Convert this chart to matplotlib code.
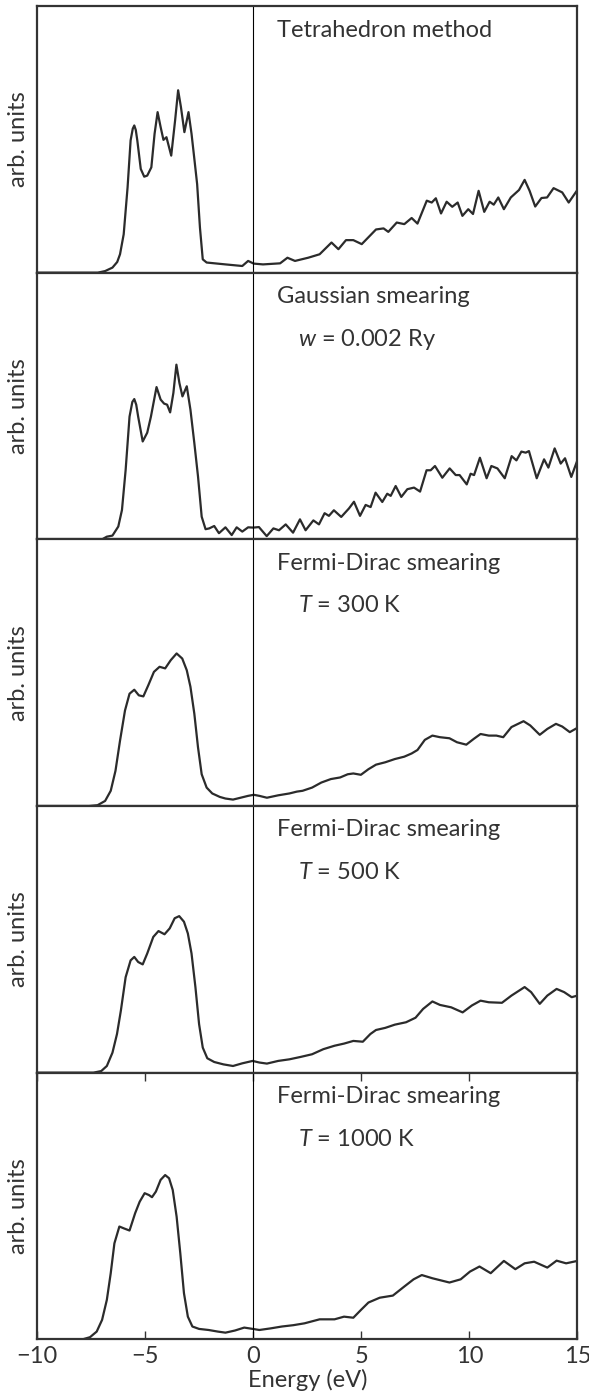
import matplotlib
matplotlib.use('Agg')
import matplotlib.pyplot as plt

# values (energy in eV, DOS as fraction of panel height)
e_tetra = [-10.0, -7.2, -6.86, -6.52, -6.30, -6.17, -6.0, -5.82, -5.68, -5.58, -5.51, -5.44, -5.37,
           -5.21, -5.05, -4.91, -4.72, -4.57, -4.43, -4.29, -4.16, -4.02, -3.80, -3.62, -3.48, -3.35,
           -3.19, -3.0, -2.86, -2.72, -2.60, -2.47, -2.34, -2.16, -1.29, -0.51, -0.24, 0.02, 0.45,
           1.24, 1.58, 1.93, 2.54, 3.07, 3.62, 3.94, 4.29, 4.63, 5.02, 5.68, 6.03, 6.25, 6.64, 6.99,
           7.33, 7.60, 8.03, 8.26, 8.45, 8.69, 8.95, 9.21, 9.46, 9.68, 9.95, 10.17, 10.43, 10.69,
           10.94, 11.13, 11.34, 11.60, 11.92, 12.30, 12.56, 12.79, 13.05, 13.34, 13.60, 13.90, 14.30,
           14.60, 15.0]
dos_tetra = [0.0, 0.0, 0.006, 0.019, 0.040, 0.069, 0.144, 0.32, 0.496, 0.540, 0.552, 0.535, 0.496,
             0.389, 0.360, 0.364, 0.395, 0.521, 0.602, 0.546, 0.498, 0.508, 0.439, 0.571, 0.684,
             0.621, 0.527, 0.602, 0.521, 0.42, 0.332, 0.169, 0.05, 0.038, 0.031, 0.025, 0.044, 0.034,
             0.031, 0.035, 0.056, 0.044, 0.056, 0.069, 0.113, 0.088, 0.122, 0.122, 0.107, 0.162,
             0.166, 0.153, 0.188, 0.182, 0.205, 0.184, 0.27, 0.263, 0.279, 0.222, 0.266, 0.247, 0.263,
             0.213, 0.238, 0.22, 0.307, 0.228, 0.266, 0.255, 0.282, 0.238, 0.282, 0.31, 0.348, 0.307,
             0.248, 0.28, 0.282, 0.317, 0.301, 0.263, 0.31]

e_gauss = [-10.0, -7.0, -6.78, -6.52, -6.25, -6.08, -5.91, -5.73, -5.60, -5.51, -5.42, -5.33, -5.12,
           -4.91, -4.74, -4.48, -4.29, -4.13, -3.99, -3.85, -3.70, -3.56, -3.42, -3.28, -3.08, -2.91,
           -2.73, -2.56, -2.39, -2.21, -2.04, -1.81, -1.59, -1.29, -1.0, -0.77, -0.51, -0.24, 0.0,
           0.26, 0.62, 0.93, 1.19, 1.50, 1.84, 2.16, 2.42, 2.78, 3.04, 3.30, 3.50, 3.73, 4.07, 4.43,
           4.66, 4.94, 5.20, 5.43, 5.66, 5.97, 6.20, 6.36, 6.59, 6.85, 7.13, 7.44, 7.72, 8.02, 8.21,
           8.41, 8.75, 9.09, 9.37, 9.55, 9.88, 10.06, 10.22, 10.49, 10.80, 11.02, 11.30, 11.64, 11.96,
           12.18, 12.41, 12.61, 12.76, 13.12, 13.46, 13.66, 13.95, 14.23, 14.43, 14.72, 15.0]
dos_gauss = [0.0, 0.0, 0.01, 0.014, 0.048, 0.11, 0.26, 0.46, 0.515, 0.526, 0.505, 0.46, 0.367, 0.40,
             0.46, 0.571, 0.524, 0.509, 0.505, 0.476, 0.549, 0.655, 0.586, 0.536, 0.574, 0.486, 0.361,
             0.236, 0.085, 0.038, 0.041, 0.05, 0.023, 0.045, 0.016, 0.045, 0.029, 0.045, 0.044, 0.046,
             0.012, 0.041, 0.034, 0.056, 0.025, 0.075, 0.034, 0.071, 0.056, 0.098, 0.088, 0.109,
             0.084, 0.116, 0.141, 0.088, 0.129, 0.121, 0.175, 0.14, 0.171, 0.163, 0.2, 0.159, 0.188,
             0.194, 0.179, 0.259, 0.259, 0.275, 0.231, 0.266, 0.241, 0.241, 0.206, 0.246, 0.241, 0.306,
             0.229, 0.275, 0.266, 0.229, 0.312, 0.296, 0.329, 0.325, 0.331, 0.229, 0.3, 0.269, 0.341,
             0.284, 0.304, 0.234, 0.296]

e_fd300 = [-10.0, -7.6, -7.21, -6.86, -6.60, -6.38, -6.17, -5.94, -5.73, -5.51, -5.30, -5.09, -4.86,
           -4.60, -4.34, -4.08, -3.82, -3.55, -3.29, -3.08, -2.91, -2.73, -2.56, -2.39, -2.16, -1.90,
           -1.55, -1.29, -0.94, -0.59, -0.24, 0.02, 0.28, 0.63, 1.15, 1.67, 2.02, 2.28, 2.72, 3.15,
           3.59, 4.02, 4.37, 4.63, 4.98, 5.33, 5.68, 6.11, 6.55, 6.99, 7.33, 7.60, 7.94, 8.29, 8.64,
           9.08, 9.43, 9.86, 10.21, 10.52, 10.90, 11.25, 11.57, 11.95, 12.51, 12.82, 13.26, 13.61,
           14.01, 14.30, 14.65, 15.0]
dos_fd300 = [0.0, 0.0, 0.003, 0.019, 0.057, 0.132, 0.245, 0.358, 0.421, 0.436, 0.415, 0.411, 0.453,
             0.503, 0.522, 0.516, 0.547, 0.572, 0.553, 0.509, 0.447, 0.346, 0.22, 0.119, 0.069, 0.047,
             0.034, 0.028, 0.024, 0.031, 0.038, 0.042, 0.038, 0.031, 0.04, 0.047, 0.054, 0.057, 0.069,
             0.088, 0.101, 0.107, 0.119, 0.122, 0.117, 0.138, 0.155, 0.164, 0.176, 0.185, 0.197, 0.21,
             0.248, 0.264, 0.258, 0.254, 0.239, 0.23, 0.252, 0.27, 0.264, 0.264, 0.258, 0.296, 0.318,
             0.302, 0.267, 0.289, 0.308, 0.298, 0.277, 0.293]

e_fd500 = [-10.0, -7.4, -7.04, -6.78, -6.52, -6.31, -6.13, -5.91, -5.68, -5.51, -5.33, -5.12, -4.91,
           -4.63, -4.39, -4.11, -3.87, -3.64, -3.43, -3.21, -3.03, -2.86, -2.68, -2.51, -2.34, -2.13,
           -1.81, -1.38, -0.94, -0.51, -0.03, 0.28, 0.63, 1.15, 1.67, 2.19, 2.72, 3.24, 3.76, 4.20,
           4.63, 5.07, 5.42, 5.68, 6.11, 6.55, 7.07, 7.51, 7.86, 8.29, 8.64, 9.16, 9.69, 10.12, 10.52,
           10.90, 11.51, 11.95, 12.56, 12.86, 13.26, 13.61, 14.04, 14.39, 14.74, 15.0]
dos_fd500 = [0.0, 0.0, 0.006, 0.025, 0.075, 0.145, 0.233, 0.358, 0.421, 0.434, 0.415, 0.406, 0.447,
             0.509, 0.531, 0.519, 0.541, 0.579, 0.587, 0.566, 0.522, 0.447, 0.321, 0.182, 0.094, 0.054,
             0.04, 0.031, 0.025, 0.035, 0.044, 0.038, 0.034, 0.044, 0.05, 0.059, 0.069, 0.088, 0.101,
             0.109, 0.119, 0.116, 0.145, 0.16, 0.168, 0.18, 0.189, 0.206, 0.239, 0.267, 0.254, 0.245,
             0.226, 0.252, 0.27, 0.264, 0.262, 0.289, 0.321, 0.302, 0.258, 0.289, 0.314, 0.302, 0.283, 0.289]

e_fd1000 = [-10.0, -7.9, -7.56, -7.25, -7.0, -6.78, -6.60, -6.43, -6.20, -5.99, -5.73, -5.47, -5.26,
            -5.03, -4.83, -4.69, -4.51, -4.29, -4.08, -3.90, -3.73, -3.55, -3.38, -3.21, -3.03, -2.82,
            -2.51, -2.07, -1.64, -1.29, -0.85, -0.42, -0.10, 0.28, 0.80, 1.32, 1.85, 2.37, 3.07, 3.76,
            4.20, 4.63, 4.98, 5.33, 5.85, 6.46, 6.99, 7.42, 7.80, 8.29, 9.08, 9.60, 10.03, 10.47, 10.99,
            11.60, 12.13, 12.56, 13.0, 13.61, 14.04, 14.48, 15.0]
dos_fd1000 = [0.0, 0.0, 0.008, 0.029, 0.073, 0.148, 0.248, 0.36, 0.423, 0.416, 0.408, 0.473, 0.516,
              0.548, 0.541, 0.533, 0.554, 0.598, 0.616, 0.604, 0.56, 0.46, 0.323, 0.173, 0.085, 0.048,
              0.039, 0.035, 0.029, 0.025, 0.033, 0.044, 0.04, 0.035, 0.041, 0.048, 0.053, 0.06, 0.075,
              0.075, 0.085, 0.081, 0.11, 0.138, 0.156, 0.164, 0.198, 0.225, 0.241, 0.229, 0.213, 0.225,
              0.254, 0.273, 0.248, 0.294, 0.263, 0.285, 0.291, 0.269, 0.295, 0.285, 0.294]

titles = ['Tetrahedron method', 'Gaussian smearing', 'Fermi-Dirac smearing',
          'Fermi-Dirac smearing', 'Fermi-Dirac smearing']
subtitles = [None, '$w$ = 0.002 Ry', '$T$ = 300 K', '$T$ = 500 K', '$T$ = 1000 K']
energies = [e_tetra, e_gauss, e_fd300, e_fd500, e_fd1000]
dos = [dos_tetra, dos_gauss, dos_fd300, dos_fd500, dos_fd1000]

plt.rcParams['font.family'] = ['Lato', 'DejaVu Sans']
plt.rcParams['mathtext.fontset'] = 'custom'
plt.rcParams['mathtext.rm'] = 'Lato'
plt.rcParams['mathtext.it'] = 'Lato:italic'
plt.rcParams['font.size'] = 17

fig, axes = plt.subplots(5, 1, figsize=(5.89, 13.96), dpi=100, sharex=True)
fig.subplots_adjust(left=0.0633, right=0.9802, top=0.9957, bottom=0.0406, hspace=0)

for ax, e, d, title, sub in zip(axes, energies, dos, titles, subtitles):
    ax.plot(e, d, color='#2b2b2b', lw=1.6, solid_joinstyle='round')
    ax.axvline(0, color='black', lw=0.8)
    ax.set_xlim(-10, 15)
    ax.set_ylim(0, 1)
    ax.set_yticks([])
    ax.set_ylabel('arb. units', color='#333333', labelpad=6)
    for s in ax.spines.values():
        s.set_linewidth(1.6)
        s.set_color('#333333')
    tr = ax.get_xaxis_transform()
    ax.text(1.1, 0.91, title, transform=tr, va='center', ha='left', color='#333333')
    if sub:
        ax.text(2.05, 0.75, sub, transform=tr, va='center', ha='left', color='#333333')
    ax.tick_params(axis='x', which='both', bottom=False, top=False, labelbottom=False)

bottom = axes[-1]
bottom.set_xticks([-10, -5, 0, 5, 10, 15])
bottom.tick_params(axis='x', bottom=True, top=True, labelbottom=True, direction='in',
                   length=6, width=1, colors='#333333', pad=5)
bottom.set_xlabel('Energy (eV)', color='#333333', labelpad=1)

fig.savefig('out.png', dpi=100)
